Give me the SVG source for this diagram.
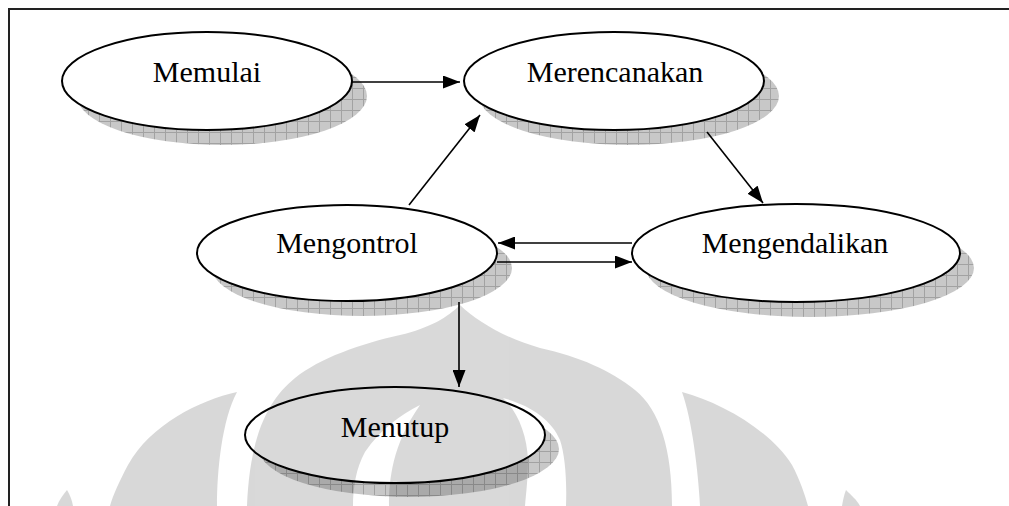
<svg xmlns="http://www.w3.org/2000/svg" width="1009" height="506" viewBox="0 0 1009 506">
  <defs>
    <style>
      .node { fill: #ffffff; stroke: #000000; stroke-width: 2; }
      .shadow { fill: url(#hatch); }
      .label { font-family: "Liberation Serif", "Times New Roman", serif; font-size: 30px; fill: #000000; text-anchor: middle; }
      .link { fill: none; stroke: #000000; stroke-width: 1.6; marker-end: url(#arrow); }
      .frame { fill: none; stroke: #222222; stroke-width: 2; }
    </style>
    <pattern id="hatch" width="11" height="11" patternUnits="userSpaceOnUse">
      <rect width="11" height="11" fill="#c8c8c8"/>
      <path d="M0,0.5H11M0.5,0V11" stroke="#a2a2a2" stroke-width="1"/>
    </pattern>
    <marker id="arrow" markerUnits="userSpaceOnUse" markerWidth="17" markerHeight="13" refX="17" refY="6.5" orient="auto">
      <path d="M0,0 L17,6.5 L0,13 Z" fill="#000000"/>
    </marker>
  </defs>

  <rect width="1009" height="506" fill="#ffffff"/>
  <path class="frame" d="M9,506 V9 H1009"/>

  <g id="node-memulai">
    <ellipse class="shadow" cx="222" cy="96" rx="145" ry="49"/>
    <ellipse class="node" cx="207" cy="81" rx="145" ry="49"/>
    <text class="label" x="207" y="82">Memulai</text>
  </g>

  <g id="node-merencanakan">
    <ellipse class="shadow" cx="629" cy="96" rx="150" ry="49"/>
    <ellipse class="node" cx="614" cy="81" rx="150" ry="49"/>
    <text class="label" x="615" y="82">Merencanakan</text>
  </g>

  <g id="node-mengontrol">
    <ellipse class="shadow" cx="362" cy="268" rx="150" ry="48"/>
    <ellipse class="node" cx="347" cy="253" rx="150" ry="48"/>
    <text class="label" x="347" y="253">Mengontrol</text>
  </g>

  <g id="node-mengendalikan">
    <ellipse class="shadow" cx="810" cy="268" rx="164" ry="49"/>
    <ellipse class="node" cx="796" cy="253" rx="164" ry="49"/>
    <text class="label" x="795" y="253">Mengendalikan</text>
  </g>

  <g id="node-menutup">
    <ellipse class="shadow" cx="409" cy="449" rx="150" ry="48"/>
    <ellipse class="node" cx="395" cy="435" rx="150" ry="48"/>
    <text class="label" x="395" y="437">Menutup</text>
  </g>

  <g id="connectors">
    <path class="link" d="M352,82 H460"/>
    <path class="link" d="M409,205 L480,115"/>
    <path class="link" d="M707,132 L763,203"/>
    <path class="link" d="M632,243 H498"/>
    <path class="link" d="M497,262 H632"/>
    <path class="link" d="M459,302 V387"/>
  </g>

  <!-- faint emblem printed over the lower half of the page -->
  <g id="watermark" fill="#000000" opacity="0.15">
    <path fill-rule="evenodd" d="M460,305 C448,317 430,328 400,335 C360,344 320,358 295,378 C268,400 250,435 247,506 L672,506 C672,450 660,410 635,390 C610,370 580,357 540,348 C505,338 478,322 460,305 Z
      M420,405 C400,415 380,430 365,452 C356,468 353,488 353,506 L389,506 C389,480 392,445 420,405 Z
      M503,398 C518,412 527,435 528,460 C528,478 526,494 525,506 L566,506 C567,480 565,455 560,440 C552,420 530,405 503,398 Z"/>
    <path d="M237,392 C200,400 150,425 128,465 C120,480 113,495 110,506 L217,506 C217,470 222,420 237,392 Z"/>
    <path d="M682,392 C720,402 770,430 792,465 C800,480 805,495 808,506 L700,506 C698,470 692,420 682,392 Z"/>
    <path d="M67,490 C63,495 59,500 57,506 L73,506 C72,500 70,495 67,490 Z"/>
    <path d="M846,490 C844,495 843,500 842,506 L860,506 C857,500 851,495 846,490 Z"/>
  </g>
</svg>
